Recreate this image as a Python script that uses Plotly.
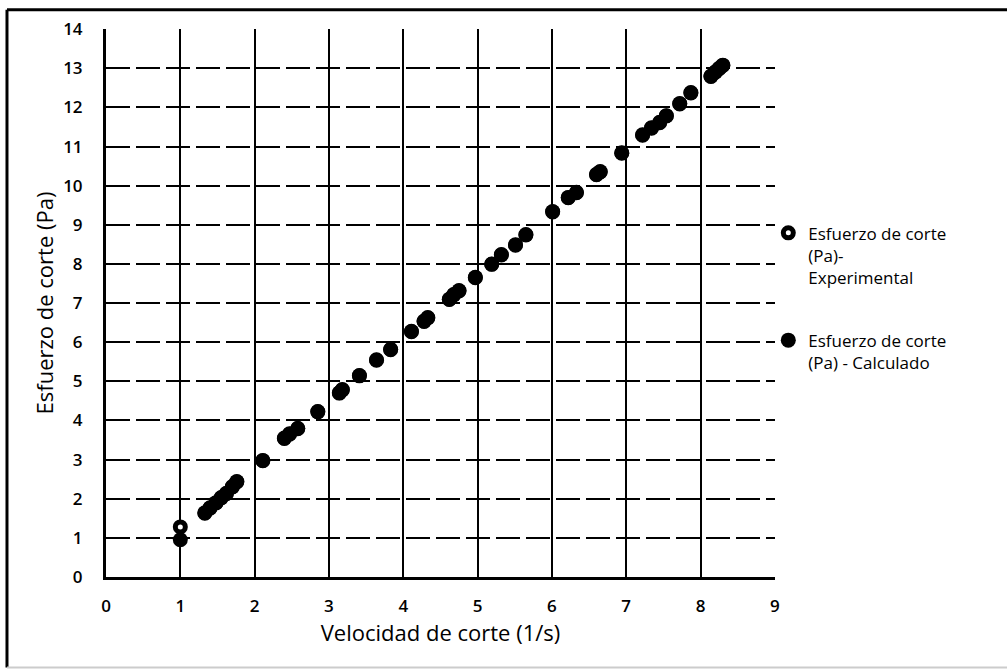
import plotly.graph_objects as go

# Velocidad de corte (1/s)
shear_rate = [1.00, 1.33, 1.40, 1.48, 1.55, 1.62, 1.70, 1.76, 2.11, 2.40, 2.47, 2.58,
              2.85, 3.14, 3.18, 3.41, 3.64, 3.83, 4.11, 4.28, 4.33, 4.62, 4.68, 4.75,
              4.97, 5.19, 5.32, 5.51, 5.65, 6.01, 6.22, 6.33, 6.60, 6.65, 6.94, 7.22,
              7.34, 7.45, 7.54, 7.72, 7.87, 8.14, 8.20, 8.25, 8.30]

# Esfuerzo de corte (Pa) - Experimental
stress_exp = [1.28, 1.63, 1.77, 1.89, 2.03, 2.13, 2.31, 2.43, 2.98, 3.54, 3.66, 3.79,
              4.23, 4.70, 4.79, 5.14, 5.55, 5.81, 6.28, 6.53, 6.63, 7.09, 7.22, 7.31,
              7.66, 7.99, 8.24, 8.48, 8.75, 9.33, 9.70, 9.82, 10.29, 10.35, 10.84, 11.29,
              11.48, 11.61, 11.79, 12.09, 12.38, 12.79, 12.91, 12.99, 13.08]

# Esfuerzo de corte (Pa) - Calculado
stress_calc = [0.95, 1.64, 1.76, 1.90, 2.02, 2.14, 2.30, 2.44, 2.97, 3.55, 3.65, 3.80,
               4.22, 4.71, 4.78, 5.15, 5.54, 5.82, 6.27, 6.54, 6.62, 7.10, 7.21, 7.32,
               7.65, 8.00, 8.23, 8.49, 8.74, 9.34, 9.69, 9.83, 10.28, 10.36, 10.83, 11.30,
               11.47, 11.62, 11.78, 12.10, 12.37, 12.80, 12.90, 13.00, 13.07]

x_ticks = list(range(0, 10))
y_ticks = list(range(0, 15))

FONT = "Open Sans"

fig = go.Figure()
fig.add_trace(go.Scatter(
    x=shear_rate, y=stress_exp, mode="markers", legendgroup="exp",
    name="Esfuerzo de corte<br>(Pa)-<br>Experimental",
    marker=dict(symbol="circle", size=10, color="white",
                line=dict(color="black", width=5)),
))
fig.add_trace(go.Scatter(
    x=shear_rate, y=stress_calc, mode="markers", legendgroup="calc",
    name="Esfuerzo de corte<br>(Pa) - Calculado",
    marker=dict(symbol="circle", size=15, color="black",
                line=dict(color="black", width=0)),
))

fig.update_layout(
    width=1007, height=671,
    margin=dict(l=106, r=232, t=29, b=94),
    paper_bgcolor="white", plot_bgcolor="white",
    font=dict(family=FONT, color="black"),
    showlegend=True,
    legend=dict(x=0.99, y=0.66, xanchor="left", yanchor="top",
                font=dict(size=17, family=FONT, color="black"),
                tracegroupgap=38, itemwidth=30, valign="top",
                bgcolor="rgba(0,0,0,0)"),
    xaxis=dict(
        range=[0, 9.002], tickvals=x_ticks, ticktext=[str(v) for v in x_ticks],
        showgrid=True, gridcolor="black", gridwidth=2,
        zeroline=False, showline=True, linecolor="black", linewidth=3,
        ticks="", ticklabelstandoff=12,
        tickfont=dict(size=17, family=FONT, color="black", weight=600),
        title=dict(text="Velocidad de corte (1/s)", standoff=10,
                   font=dict(size=22, family=FONT, color="black")),
    ),
    yaxis=dict(
        range=[0, 14.004], tickvals=y_ticks, ticktext=[str(v) for v in y_ticks],
        showgrid=True, gridcolor="black", gridwidth=2, griddash="24px,6px",
        zeroline=False, showline=True, linecolor="black", linewidth=3,
        ticks="", ticklabelstandoff=17,
        tickfont=dict(size=17, family=FONT, color="black", weight=600),
        title=dict(text="Esfuerzo de corte (Pa)", standoff=4,
                   font=dict(size=22, family=FONT, color="black")),
    ),
    shapes=[
        # outer chart border (left and top), faint bottom
        dict(type="line", xref="paper", yref="paper",
             x0=-0.148, x1=-0.148, y0=1.035, y1=-0.165,
             line=dict(color="black", width=3)),
        dict(type="line", xref="paper", yref="paper",
             x0=-0.148, x1=1.35, y0=1.035, y1=1.035,
             line=dict(color="black", width=3)),
        dict(type="line", xref="paper", yref="paper",
             x0=-0.148, x1=1.35, y0=-0.165, y1=-0.165,
             line=dict(color="#cccccc", width=2)),
    ],
)

fig.write_html("out.html")
